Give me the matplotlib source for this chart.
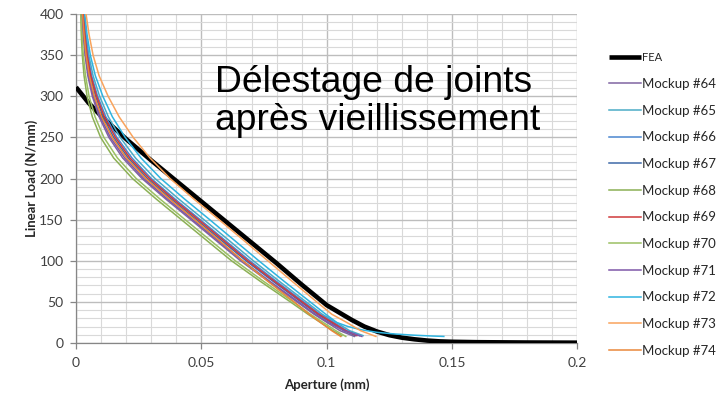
import matplotlib
matplotlib.use("Agg")
import matplotlib.pyplot as plt
from matplotlib.ticker import MultipleLocator

plt.rcParams['font.family'] = ['Lato', 'DejaVu Sans']

# FEA prediction: aperture (mm) vs linear load (N/mm)
fea_x = [0.0, 0.005, 0.01, 0.02, 0.03, 0.04, 0.05, 0.06, 0.07, 0.08, 0.09,
         0.10, 0.105, 0.11, 0.115, 0.12, 0.125, 0.13, 0.135, 0.14, 0.145,
         0.15, 0.16, 0.18, 0.20]
fea_y = [311, 292, 276, 248, 222, 197, 172, 147, 122, 97, 71,
         46, 37, 28, 20, 14, 9.5, 6.5, 4.5, 3.0, 2.0,
         1.5, 1.0, 0.6, 0.4]

# Load levels at which the measured mockup curves are tabulated
load_levels = [400, 375, 350, 325, 300, 275, 250, 225, 200, 175, 150, 125,
               100, 75, 50, 35, 25, 15]

mockup_names = ['Mockup #64', 'Mockup #65', 'Mockup #66', 'Mockup #67',
                'Mockup #68', 'Mockup #69', 'Mockup #70', 'Mockup #71',
                'Mockup #72', 'Mockup #73', 'Mockup #74']

mockup_colors = ['#8064A2', '#4BACC6', '#4A86D0', '#3E6AA8', '#8CB055',
                 '#D0393B', '#9BC063', '#7E57A8', '#2FB4E0', '#F9A35C',
                 '#E9883A']

# Aperture (mm) of each mockup at the load levels above
m64 = [0.0024, 0.0029, 0.0036, 0.0047, 0.0065, 0.0092, 0.0131, 0.0186, 0.0263,
       0.0358, 0.0458, 0.0557, 0.0656, 0.0767, 0.0881, 0.0949, 0.1001, 0.1053]
m65 = [0.0032, 0.0040, 0.0051, 0.0068, 0.0094, 0.0129, 0.0176, 0.0237, 0.0315,
       0.0410, 0.0510, 0.0609, 0.0707, 0.0811, 0.0918, 0.0982, 0.1038, 0.1091]
m66 = [0.0030, 0.0037, 0.0047, 0.0062, 0.0086, 0.0119, 0.0163, 0.0223, 0.0300,
       0.0395, 0.0495, 0.0594, 0.0693, 0.0799, 0.0908, 0.0973, 0.1028, 0.1080]
m67 = [0.0027, 0.0033, 0.0042, 0.0056, 0.0078, 0.0108, 0.0150, 0.0208, 0.0285,
       0.0380, 0.0480, 0.0579, 0.0678, 0.0786, 0.0897, 0.0963, 0.1017, 0.1069]
m68 = [0.0019, 0.0021, 0.0025, 0.0032, 0.0044, 0.0065, 0.0098, 0.0150, 0.0225,
       0.0320, 0.0420, 0.0520, 0.0620, 0.0735, 0.0855, 0.0925, 0.0975, 0.1025]
m69 = [0.0028, 0.0035, 0.0044, 0.0059, 0.0082, 0.0113, 0.0157, 0.0215, 0.0293,
       0.0388, 0.0488, 0.0587, 0.0685, 0.0792, 0.0902, 0.0968, 0.1022, 0.1075]
m70 = [0.0021, 0.0024, 0.0029, 0.0038, 0.0052, 0.0076, 0.0111, 0.0165, 0.0240,
       0.0335, 0.0435, 0.0535, 0.0635, 0.0748, 0.0866, 0.0935, 0.0986, 0.1036]
m71 = [0.0025, 0.0030, 0.0038, 0.0050, 0.0069, 0.0097, 0.0137, 0.0194, 0.0270,
       0.0365, 0.0465, 0.0564, 0.0664, 0.0773, 0.0887, 0.0954, 0.1007, 0.1068]
m72 = [0.0035, 0.0044, 0.0057, 0.0077, 0.0107, 0.0145, 0.0196, 0.0259, 0.0338,
       0.0433, 0.0533, 0.0631, 0.0729, 0.0830, 0.0934, 0.0996, 0.1040]
m73 = [0.0040, 0.0052, 0.0068, 0.0092, 0.0128, 0.0172, 0.0228, 0.0295, 0.0375,
       0.0470, 0.0570, 0.0668, 0.0765, 0.0862, 0.0960, 0.1020, 0.1080, 0.1135]
m74 = [0.0026, 0.0032, 0.0040, 0.0053, 0.0073, 0.0102, 0.0144, 0.0201, 0.0278,
       0.0373, 0.0473, 0.0570, 0.0665, 0.0765, 0.0870, 0.0930, 0.0975, 0.1020]

# Final unloading points of each mockup (aperture, load)
tail_x = {
    'Mockup #64': [0.1110], 'Mockup #65': [0.1145], 'Mockup #66': [0.1130],
    'Mockup #67': [0.1115], 'Mockup #68': [0.1060], 'Mockup #69': [0.1120],
    'Mockup #70': [0.1076], 'Mockup #71': [0.1140],
    'Mockup #72': [0.1085, 0.1140, 0.1200, 0.1270, 0.1350, 0.1420, 0.1467],
    'Mockup #73': [0.1196], 'Mockup #74': [0.1056],
}
tail_y = {
    'Mockup #64': [8], 'Mockup #65': [9], 'Mockup #66': [9],
    'Mockup #67': [9], 'Mockup #68': [9], 'Mockup #69': [9],
    'Mockup #70': [8], 'Mockup #71': [8],
    'Mockup #72': [20, 16, 13, 11, 9.5, 8.5, 8],
    'Mockup #73': [8], 'Mockup #74': [8],
}

mockups = [m64, m65, m66, m67, m68, m69, m70, m71, m72, m73, m74]

fig = plt.figure(figsize=(7.24, 3.94), dpi=100)
ax = fig.add_axes([0.105, 0.1294, 0.6926, 0.8351])

ax.plot(fea_x, fea_y, color='black', lw=3.3, label='FEA', zorder=3,
        solid_capstyle='butt')
for name, col, xs in zip(mockup_names, mockup_colors, mockups):
    ys = load_levels[:len(xs)] + tail_y[name]
    ax.plot(xs + tail_x[name], ys, color=col, lw=1.1, label=name, zorder=4)

ax.set_xlim(0, 0.2)
ax.set_ylim(0, 400)
ax.xaxis.set_major_locator(MultipleLocator(0.05))
ax.xaxis.set_minor_locator(MultipleLocator(0.01))
ax.yaxis.set_major_locator(MultipleLocator(50))
ax.yaxis.set_minor_locator(MultipleLocator(10))
ax.set_xticks([0, 0.05, 0.1, 0.15, 0.2])
ax.set_xticklabels(['0', '0.05', '0.1', '0.15', '0.2'])

ax.grid(which='major', color='#bdbdbd', lw=1.0, zorder=0)
ax.grid(which='minor', color='#d9d9d9', lw=0.8, zorder=0)
ax.set_axisbelow(True)

for s in ['top', 'right']:
    ax.spines[s].set_visible(False)
for s in ['left', 'bottom']:
    ax.spines[s].set_color('#868686')
    ax.spines[s].set_linewidth(0.9)
ax.tick_params(which='major', length=4, width=0.9, color='#868686',
               labelsize=10, labelcolor='#404040')
ax.tick_params(axis='x', which='major', pad=6)
ax.tick_params(axis='y', which='major', pad=5)
ax.tick_params(which='minor', length=0)

ax.set_xlabel('Aperture (mm)', fontsize=9.5, fontweight='bold',
              color='#262626', labelpad=7)
ax.set_ylabel('Linear Load (N/mm)', fontsize=9.5, fontweight='bold',
              color='#262626', labelpad=1)

ax.text(0.0556, 305.5, 'Délestage de joints', fontsize=26.8,
        family='Liberation Sans', va='baseline', ha='left', zorder=5)
ax.text(0.0556, 259, 'après vieillissement', fontsize=26.8,
        family='Liberation Sans', va='baseline', ha='left', zorder=5)

leg = ax.legend(loc='upper left', bbox_to_anchor=(1.053, 0.90),
                frameon=False, fontsize=9.5, handlelength=2.4,
                handletextpad=0.1, labelspacing=1.11, borderaxespad=0)
leg.get_texts()[0].set_fontsize(8)
for t in leg.get_texts():
    t.set_color('#262626')

fig.savefig('out.png', dpi=100)
